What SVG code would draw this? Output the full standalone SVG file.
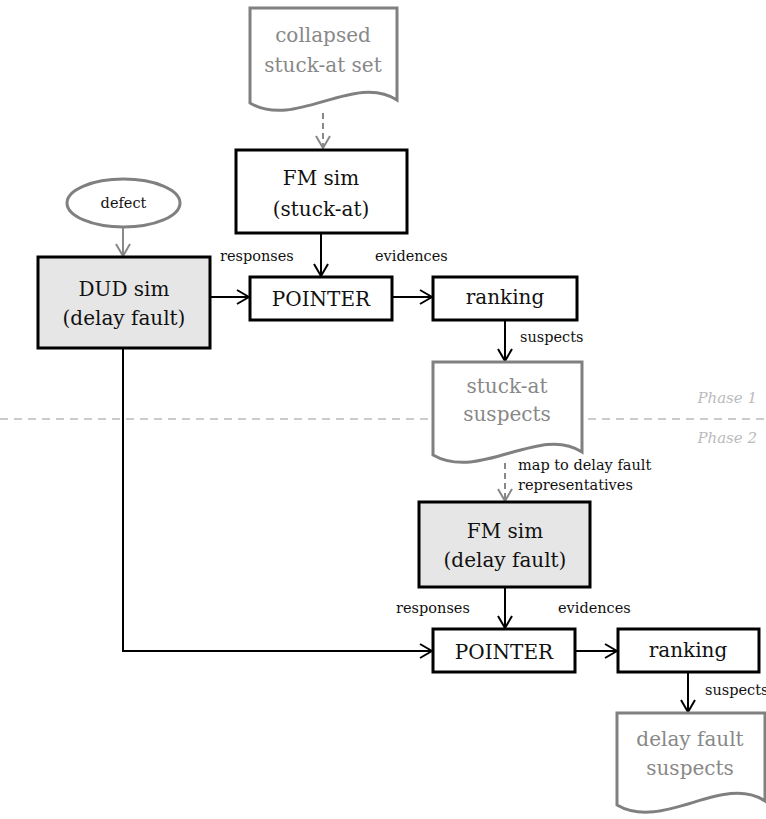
<svg xmlns="http://www.w3.org/2000/svg" width="766" height="819" viewBox="0 0 766 819">
<style>
text{font-family:"DejaVu Serif","Liberation Serif",serif;text-anchor:middle;fill:#111}
.big{font-size:20px}
.sm{font-size:14.5px}
.doc{fill:#fff;stroke:#808080;stroke-width:3}
.doct{fill:#888}
.box{fill:#fff;stroke:#000;stroke-width:3}
.gbox{fill:#e6e6e6;stroke:#000;stroke-width:3}
.c{fill:none;stroke:#000;stroke-width:2;marker-end:url(#ah)}
.cg{fill:none;stroke:#888;stroke-width:2;marker-end:url(#ahg)}
.cd{fill:none;stroke:#888;stroke-width:2;stroke-dasharray:6 4;marker-end:url(#ahg)}
.ph{font-size:15px;font-style:italic;fill:#bbb;text-anchor:end}
.lbl{text-anchor:start}
</style>
<defs>
<marker id="ah" markerUnits="userSpaceOnUse" viewBox="0 0 14 16" refX="13" refY="8" markerWidth="14" markerHeight="16" orient="auto"><path d="M1,1 L13,8 L1,15" fill="none" stroke="#000" stroke-width="2"/></marker>
<marker id="ahg" markerUnits="userSpaceOnUse" viewBox="0 0 14 16" refX="13" refY="8" markerWidth="14" markerHeight="16" orient="auto"><path d="M1,1 L13,8 L1,15" fill="none" stroke="#888" stroke-width="2"/></marker>
</defs>

<line x1="0" y1="419" x2="766" y2="419" stroke="#bbb" stroke-width="1.5" stroke-dasharray="8 6"/>
<text class="ph" x="757" y="403">Phase 1</text>
<text class="ph" x="757" y="443">Phase 2</text>

<g id="connectors">
<path class="cd" d="M323,113 V148"/>
<path class="cg" d="M123,228 V256"/>
<path class="c" d="M321,233 V276"/>
<path class="c" d="M210,297 H249"/>
<path class="c" d="M392,297 H432"/>
<path class="c" d="M505,320 V361"/>
<path class="cd" d="M505,463 V501"/>
<path class="c" d="M505,587 V628"/>
<path class="c" d="M123,348 V651 H432"/>
<path class="c" d="M575,651 H617"/>
<path class="c" d="M688,672 V712"/>
<text class="sm lbl" x="220" y="261">responses</text>
<text class="sm lbl" x="375" y="261">evidences</text>
<text class="sm lbl" x="520" y="342">suspects</text>
<text class="sm lbl" x="518" y="470">map to delay fault</text>
<text class="sm lbl" x="518" y="490">representatives</text>
<text class="sm" x="433" y="613">responses</text>
<text class="sm lbl" x="558" y="613">evidences</text>
<text class="sm lbl" x="705" y="695">suspects</text>
</g>

<g id="collapsed">
<path class="doc" d="M250,8 H397 V100 C355,72 295,130 250,103 Z"/>
<text class="big doct" x="323" y="42">collapsed</text>
<text class="big doct" x="323" y="72">stuck-at set</text>
</g>

<g id="fmsim1">
<rect class="box" x="236" y="150" width="171" height="83"/>
<text class="big" x="321" y="185">FM sim</text>
<text class="big" x="321" y="216">(stuck-at)</text>
</g>

<g id="defect">
<ellipse cx="123.5" cy="203" rx="56.5" ry="24" fill="#fff" stroke="#808080" stroke-width="3"/>
<text class="sm" x="123.5" y="208">defect</text>
</g>

<g id="dudsim">
<rect class="gbox" x="38" y="257" width="172" height="91"/>
<text class="big" x="124" y="296">DUD sim</text>
<text class="big" x="124" y="325">(delay fault)</text>
</g>

<g id="pointer1">
<rect class="box" x="250" y="277" width="142" height="43"/>
<text class="big" x="321" y="306">POINTER</text>
</g>

<g id="ranking1">
<rect class="box" x="433" y="277" width="144" height="43"/>
<text class="big" x="505" y="304">ranking</text>
</g>

<g id="stuckat-suspects">
<path class="doc" d="M433,362 H582 V452 C540,424 480,482 433,455 Z"/>
<text class="big doct" x="507" y="393">stuck-at</text>
<text class="big doct" x="507" y="421">suspects</text>
</g>

<g id="fmsim2">
<rect class="gbox" x="419" y="502" width="171" height="85"/>
<text class="big" x="505" y="538">FM sim</text>
<text class="big" x="505" y="567">(delay fault)</text>
</g>

<g id="pointer2">
<rect class="box" x="433" y="629" width="142" height="43"/>
<text class="big" x="504" y="659">POINTER</text>
</g>

<g id="ranking2">
<rect class="box" x="618" y="629" width="141" height="43"/>
<text class="big" x="688" y="657">ranking</text>
</g>

<g id="delay-suspects">
<path class="doc" d="M617,713 H765 V801 C723,773 663,832 617,805 Z"/>
<text class="big doct" x="690" y="746">delay fault</text>
<text class="big doct" x="690" y="775">suspects</text>
</g>
</svg>
